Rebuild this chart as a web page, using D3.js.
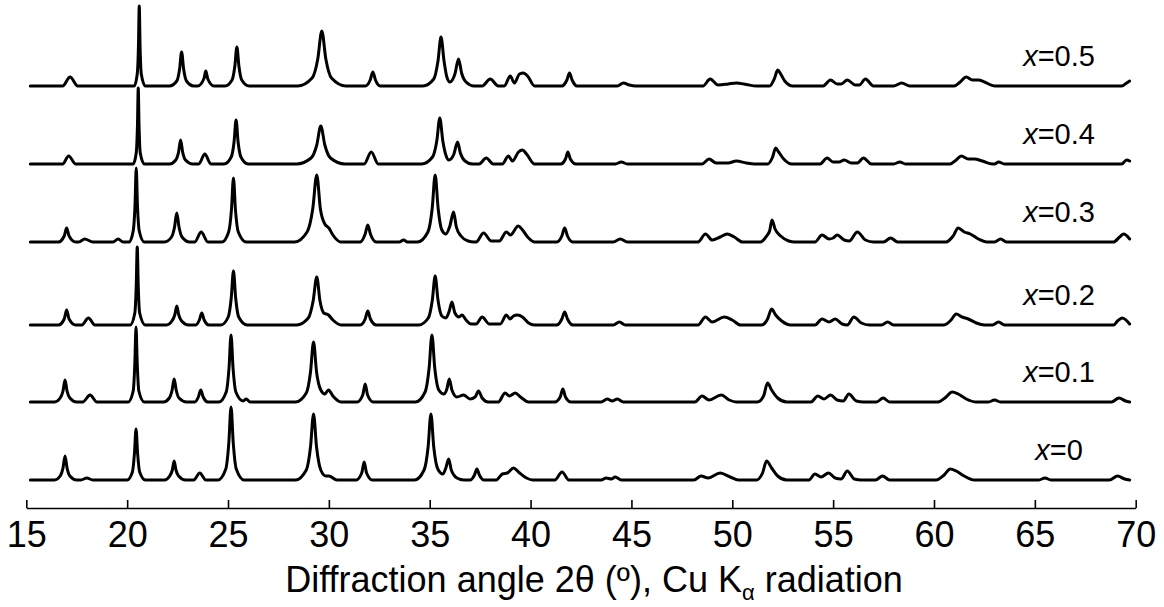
<!DOCTYPE html>
<html>
<head>
<meta charset="utf-8">
<script src="https://cdn.jsdelivr.net/npm/d3@7"></script>
<style>
  html, body { margin: 0; padding: 0; background: #fff; }
  svg { display: block; }
  text { font-family: "Liberation Sans", Arial, sans-serif; fill: #000; }
</style>
</head>
<body>
<svg id="chart" width="1164" height="607"></svg>
<script>
// Composition of each sample (x in the series label)
const compositions = [0, 0.1, 0.2, 0.3, 0.4, 0.5];

// Vertical shift of each pattern in the stack (intensity units)
const offsets = [0, 78, 155, 238, 316, 394];

// 2θ axis ticks
const xTicks = [15, 20, 25, 30, 35, 40, 45, 50, 55, 60, 65, 70];

// Diffraction patterns: [2θ (deg), relative intensity]
const pattern_x0 = [
  [15.2,0],[16.4,0],[16.68,4],[16.82,12],[16.92,24],[17.02,12],[17.16,4],[17.5,0],
  [17.7,0],[18.0,2],[18.3,0],
  [20.0,0],[20.26,8],[20.36,26],[20.44,51],[20.52,26],[20.62,8],[20.9,0],
  [21.85,0],[22.11,4],[22.24,10],[22.33,19],[22.42,10],[22.55,4],[22.9,0],
  [23.3,0],[23.6,7],[23.9,0],
  [24.5,0],[24.89,11],[25.04,37],[25.15,73],[25.26,37],[25.41,11],[25.8,0],
  [28.35,0],[28.88,10],[29.09,33],[29.24,66],[29.39,33],[29.6,10],[29.85,4],[30.0,4],[30.4,0],
  [31.35,0],[31.63,7],[31.75,18],[31.87,7],[32.15,0],
  [34.25,0],[34.72,10],[34.92,33],[35.06,66],[35.2,33],[35.4,11],[35.65,6],[35.8,12],[35.94,21],[36.07,10],[36.35,2],[36.7,0],
  [37.0,0],[37.22,5],[37.34,11],[37.46,5],[37.7,0],
  [38.3,0],[38.6,6],[38.85,7],[39.16,12],[39.4,8],[39.8,2],[40.1,0],
  [41.2,0],[41.56,8],[41.9,0],
  [43.5,0],[43.75,2],[44.0,1],[44.2,3],[44.5,0],
  [48.1,0],[48.45,4],[48.8,2],[49.4,7],[49.9,3],[50.3,0],
  [51.2,0],[51.5,7],[51.7,19],[51.95,12],[52.25,4],[52.7,0],
  [53.8,0],[54.1,6],[54.4,3],[54.77,7],[55.1,2],[55.4,1],[55.7,9],[56.05,1],[56.4,0],
  [57.1,0],[57.45,4],[57.8,0],
  [60.1,0],[60.5,5],[60.8,11],[61.1,9],[61.5,4],[62.0,0],
  [65.2,0],[65.5,2],[65.8,0],
  [68.7,0],[69.1,4],[69.45,1],[69.7,0]
];

const pattern_x01 = [
  [15.2,0],[16.4,0],[16.68,4],[16.82,11],[16.92,22],[17.02,11],[17.16,4],[17.5,0],
  [17.8,0],[18.16,7],[18.5,0],
  [20.05,0],[20.3,11],[20.38,38],[20.44,75],[20.5,38],[20.58,11],[20.85,0],
  [21.8,0],[22.09,4],[22.23,12],[22.33,23],[22.43,12],[22.57,4],[22.95,0],
  [23.35,0],[23.53,5],[23.65,12],[23.77,5],[24.0,0],
  [24.55,0],[24.91,10],[25.05,34],[25.15,67],[25.25,34],[25.39,10],[25.75,1],[25.9,3],[26.1,0],
  [28.35,0],[28.88,9],[29.09,30],[29.24,60],[29.39,30],[29.6,12],[29.8,8],[29.98,12],[30.2,6],[30.6,0],
  [31.4,0],[31.68,7],[31.8,18],[31.92,7],[32.2,0],
  [34.3,0],[34.77,10],[34.97,34],[35.11,67],[35.25,34],[35.45,12],[35.7,8],[35.85,13],[35.97,23],[36.1,12],[36.35,5],[36.68,7],[37.0,3],[37.25,5],[37.42,11],[37.6,4],[37.9,0],
  [38.4,0],[38.74,9],[38.95,6],[39.24,9],[39.5,5],[39.9,0],
  [41.2,0],[41.47,5],[41.6,13],[41.73,5],[42.0,0],
  [43.5,0],[43.8,3],[44.05,1],[44.3,3],[44.6,0],
  [48.15,0],[48.5,6],[48.85,2],[49.45,7],[49.85,2],[50.2,0],
  [51.25,0],[51.55,6],[51.75,19],[51.95,12],[52.25,4],[52.7,0],
  [53.9,0],[54.24,6],[54.55,3],[54.87,7],[55.2,2],[55.5,1],[55.78,8],[56.15,1],[56.5,0],
  [57.15,0],[57.48,4],[57.8,0],
  [60.2,0],[60.6,5],[60.9,10],[61.2,8],[61.6,3],[62.1,0],
  [62.7,0],[63.0,2],[63.3,0],
  [68.8,0],[69.17,4],[69.5,1],[69.7,0]
];

const pattern_x02 = [
  [15.2,0],[16.6,0],[16.88,6],[17.0,15],[17.12,6],[17.45,0],
  [17.75,0],[18.08,7],[18.4,0],
  [20.15,0],[20.38,12],[20.45,39],[20.5,78],[20.55,39],[20.62,12],[20.9,0],
  [21.95,0],[22.22,4],[22.36,10],[22.46,19],[22.56,10],[22.7,4],[23.05,0],
  [23.4,0],[23.58,5],[23.7,12],[23.82,5],[24.05,0],
  [24.65,0],[25.01,8],[25.16,27],[25.27,54],[25.38,27],[25.53,8],[25.95,0],
  [28.4,0],[28.98,7],[29.22,24],[29.4,48],[29.56,24],[29.75,12],[29.98,10],[30.2,5],[30.6,0],
  [31.55,0],[31.8,6],[31.93,14],[32.06,6],[32.35,0],
  [34.45,0],[34.93,7],[35.13,25],[35.27,49],[35.41,25],[35.6,9],[35.8,7],[35.97,14],[36.1,23],[36.25,12],[36.45,8],[36.6,10],[36.8,5],[37.05,1],
  [37.3,1],[37.6,8],[37.95,1],
  [38.5,1],[38.8,10],[38.98,6],[39.15,9],[39.35,10],[39.6,8],[39.9,2],[40.2,0],
  [41.3,0],[41.55,6],[41.69,13],[41.83,6],[42.1,0],
  [44.1,0],[44.4,3],[44.7,0],
  [48.3,0],[48.67,8],[49.0,3],[49.6,8],[50.0,5],[50.4,0],
  [51.45,0],[51.75,6],[51.95,16],[52.15,10],[52.45,4],[52.9,0],
  [54.1,0],[54.45,6],[54.8,3],[55.1,6],[55.45,1],
  [55.7,0],[56.03,8],[56.4,2],[56.8,0],
  [57.4,0],[57.7,3],[58.0,0],
  [60.5,0],[60.85,5],[61.1,11],[61.4,8],[61.7,6],[62.1,2],[62.5,0],
  [62.9,0],[63.2,3],[63.5,0],
  [68.9,0],[69.1,4],[69.33,7],[69.7,1]
];

const pattern_x03 = [
  [15.2,0],[16.6,0],[16.88,6],[17.0,14],[17.12,6],[17.45,0],
  [17.6,0],[17.9,3],[18.3,0],
  [19.3,0],[19.55,3],[19.8,0],
  [20.1,0],[20.3,11],[20.39,37],[20.45,74],[20.51,37],[20.6,11],[20.85,0],
  [21.85,0],[22.2,5],[22.35,15],[22.46,29],[22.57,15],[22.72,5],[23.1,0],
  [23.35,0],[23.67,10],[24.0,0],
  [24.7,0],[25.03,10],[25.17,32],[25.27,64],[25.37,32],[25.51,10],[25.9,0],
  [28.3,0],[28.92,10],[29.2,33],[29.4,67],[29.58,33],[29.8,18],[30.0,14],[30.2,7],[30.6,0],
  [31.55,0],[31.8,8],[31.93,17],[32.06,8],[32.35,0],
  [33.5,0],[33.7,2],[33.9,0],
  [34.4,0],[34.91,10],[35.12,33],[35.27,67],[35.42,33],[35.6,12],[35.8,8],[36.0,16],[36.18,30],[36.32,15],[36.55,6],[36.9,1],[37.2,0],
  [37.3,0],[37.67,9],[38.05,1],
  [38.45,1],[38.8,10],[39.0,7],[39.39,16],[39.6,12],[39.9,4],[40.2,0],
  [41.3,0],[41.55,6],[41.69,14],[41.83,6],[42.1,0],
  [44.1,0],[44.45,3],[44.8,0],
  [48.3,0],[48.67,8],[49.0,2],[49.4,5],[49.74,8],[50.1,5],[50.5,0],
  [51.4,0],[51.7,6],[51.85,11],[51.97,22],[52.12,13],[52.4,6],[52.8,1],[53.1,0],
  [54.1,0],[54.45,7],[54.8,3],[55.0,4],[55.2,7],[55.55,2],
  [55.8,1],[56.2,10],[56.6,2],[57.0,0],
  [57.5,0],[57.85,4],[58.2,0],
  [60.6,0],[60.95,6],[61.2,14],[61.5,10],[61.8,8],[62.2,3],[62.6,0],
  [63.0,0],[63.3,3],[63.6,0],
  [68.9,0],[69.2,5],[69.4,8],[69.7,3]
];

const pattern_x04 = [
  [15.2,0],[16.8,0],[17.1,8],[17.45,0],
  [20.3,0],[20.45,11],[20.51,38],[20.55,76],[20.59,38],[20.65,11],[20.85,0],
  [22.1,0],[22.41,4],[22.55,12],[22.65,24],[22.75,12],[22.89,4],[23.25,0],
  [23.55,0],[23.85,10],[24.15,0],
  [24.8,0],[25.16,7],[25.3,22],[25.4,44],[25.5,22],[25.64,7],[26.0,0],
  [28.4,0],[29.12,6],[29.4,19],[29.6,38],[29.8,19],[30.08,6],[30.8,0],
  [31.75,0],[32.1,12],[32.45,0],
  [34.6,0],[35.14,7],[35.35,23],[35.5,46],[35.65,23],[35.8,9],[35.95,4],[36.2,10],[36.38,22],[36.52,11],[36.75,3],[37.1,0],
  [37.45,0],[37.8,6],[38.15,0],
  [38.6,0],[38.9,8],[39.1,3],[39.4,12],[39.6,14],[39.8,10],[40.2,0],
  [41.5,0],[41.73,5],[41.85,12],[41.97,5],[42.25,0],
  [44.2,0],[44.5,2],[44.8,0],
  [48.5,0],[48.85,5],[49.2,1],[49.8,1],[50.2,3],[50.7,1],[51.1,0],
  [51.75,0],[52.0,7],[52.15,16],[52.3,12],[52.55,5],[52.95,0],
  [54.35,0],[54.7,6],[55.0,2],[55.3,2],[55.55,4],[55.9,1],
  [56.2,1],[56.5,6],[56.9,0],
  [58.0,0],[58.3,2],[58.6,0],
  [60.8,0],[61.1,4],[61.35,8],[61.7,5],[62.0,5],[62.4,3],[62.9,0],
  [63.0,0],[63.2,2],[63.5,0],
  [69.3,0],[69.55,4],[69.7,3]
];

const pattern_x05 = [
  [15.2,0],[16.8,0],[17.17,9],[17.55,0],
  [20.35,0],[20.5,12],[20.56,40],[20.6,80],[20.64,40],[20.7,12],[20.9,0],
  [22.1,0],[22.46,5],[22.6,17],[22.7,34],[22.8,17],[22.94,5],[23.3,0],
  [23.5,0],[23.8,7],[23.9,15],[24.0,7],[24.3,0],
  [24.85,0],[25.2,6],[25.34,20],[25.44,39],[25.54,20],[25.68,6],[26.05,0],
  [28.45,0],[29.17,8],[29.45,27],[29.65,55],[29.85,27],[30.13,8],[30.85,0],
  [31.8,0],[32.05,6],[32.18,14],[32.31,6],[32.55,0],
  [34.66,0],[35.2,7],[35.41,25],[35.56,49],[35.71,25],[35.85,9],[36.0,4],[36.25,12],[36.43,27],[36.58,13],[36.8,4],[37.2,0],
  [37.6,0],[38.0,7],[38.4,0],
  [38.7,0],[38.99,10],[39.2,3],[39.45,12],[39.65,13],[39.85,10],[40.2,0],
  [41.55,0],[41.8,6],[41.93,13],[42.06,6],[42.3,0],
  [44.3,0],[44.6,3],[44.9,1],[45.2,0],
  [48.55,0],[48.9,7],[49.3,1],[49.8,2],[50.2,3],[50.7,1.5],[51.2,0],
  [51.85,0],[52.1,8],[52.25,16],[52.4,12],[52.6,5],[53.0,0],
  [54.5,0],[54.87,6],[55.2,2],[55.4,2],[55.7,6],[56.1,1],
  [56.3,1],[56.6,7],[57.0,0],
  [58.0,0],[58.4,3],[58.8,0],
  [61.0,0],[61.3,4],[61.6,9],[61.9,6],[62.2,6],[62.5,4],[63.0,0],
  [69.3,0],[69.55,3],[69.7,5]
];

const patterns = [pattern_x0, pattern_x01, pattern_x02, pattern_x03, pattern_x04, pattern_x05];

const xTitle = "Diffraction angle 2θ (º), Cu K";

// ---- layout ----
const svg = d3.select("#chart");
const axisY = 508;

const x = d3.scaleLinear().domain([15, 70]).range([26.3, 1135.7]);
const y = d3.scaleLinear().domain([0, 480]).range([480, 0]);

// stacked patterns
const line = d3.line()
  .x(d => x(d[0]))
  .y(d => y(d[1]))
  .curve(d3.curveMonotoneX);

patterns.forEach((pts, i) => {
  const shifted = pts.map(p => [p[0], p[1] + offsets[i]]);
  svg.append("path")
    .attr("d", line(shifted))
    .attr("fill", "none")
    .attr("stroke", "#000")
    .attr("stroke-width", 3)
    .attr("stroke-linejoin", "round")
    .attr("stroke-linecap", "round");
});

// series labels
compositions.forEach((c, i) => {
  const t = svg.append("text")
    .attr("x", 1059)
    .attr("y", y(offsets[i] + 20))
    .attr("text-anchor", "middle")
    .style("font-size", "29px");
  t.append("tspan").style("font-style", "italic").text("x");
  t.append("tspan").text("=" + c);
});

// bottom axis with inward ticks
const axis = d3.axisBottom(x)
  .tickValues(xTicks)
  .tickSize(-8)
  .tickPadding(13)
  .tickSizeOuter(0)
  .tickFormat(d3.format("d"));

const gAxis = svg.append("g")
  .attr("transform", `translate(0,${axisY})`)
  .call(axis);
gAxis.select(".domain").attr("stroke", "#000").attr("stroke-width", 1.6);
gAxis.selectAll(".tick line").attr("stroke", "#000").attr("stroke-width", 1.6);
gAxis.selectAll(".tick text")
  .attr("fill", "#000")
  .style("font-family", "'Liberation Sans', Arial, sans-serif")
  .style("font-size", "36px");

// axis title
const title = svg.append("text")
  .attr("x", 594)
  .attr("y", 592)
  .attr("text-anchor", "middle")
  .style("font-size", "36px");
title.append("tspan").text(xTitle);
title.append("tspan").attr("dy", 8).style("font-size", "22px").text("α");
title.append("tspan").attr("dy", -8).text(" radiation");
</script>
</body>
</html>
